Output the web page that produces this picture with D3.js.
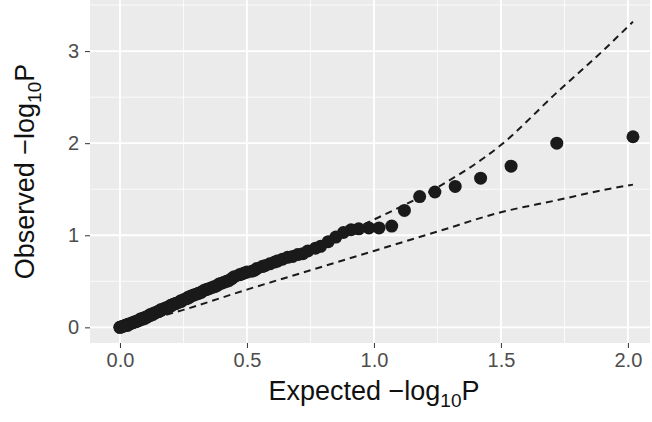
<!DOCTYPE html>
<html><head><meta charset="utf-8">
<script src="https://cdn.jsdelivr.net/npm/d3@7"></script>
<style>body{margin:0;background:#fff}</style>
</head><body><svg id="c" width="652" height="422"></svg>
<script>
// expected -log10 p (rank order) and observed -log10 p
const expected = [2.02,1.72,1.54,1.42,1.32,1.24,1.18,1.12,1.07,1.02,0.98,0.94,0.91,0.88,0.85,0.82,0.79,0.77,0.74,0.72,
  0.70,0.68,0.66,0.64,0.62,0.61,0.59,0.57,0.56,0.54,0.53,0.52,0.50,0.49,0.48,0.47,0.45,0.44,0.43,0.42,
  0.41,0.40,0.39,0.38,0.37,0.36,0.35,0.34,0.33,0.32,0.31,0.31,0.30,0.29,0.28,0.27,0.27,0.26,0.25,0.24,
  0.24,0.23,0.22,0.22,0.21,0.20,0.20,0.19,0.18,0.18,0.17,0.16,0.16,0.15,0.15,0.14,0.13,0.13,0.12,0.12,
  0.11,0.11,0.10,0.10,0.09,0.09,0.08,0.08,0.07,0.07,0.06,0.06,0.05,0.05,0.04,0.04,0.03,0.03,0.03,0.02,
  0.02,0.01,0.01,0.00,0.00]
const observed = [2.07,2.00,1.75,1.62,1.53,1.47,1.42,1.27,1.10,1.08,1.08,1.07,1.06,1.03,0.98,0.93,0.88,0.86,0.83,0.80,
  0.79,0.77,0.76,0.74,0.72,0.71,0.69,0.67,0.66,0.64,0.62,0.61,0.60,0.59,0.58,0.57,0.55,0.53,0.51,0.50,
  0.49,0.48,0.47,0.45,0.44,0.43,0.42,0.41,0.40,0.38,0.37,0.37,0.36,0.35,0.34,0.33,0.32,0.31,0.30,0.29,
  0.28,0.27,0.26,0.26,0.25,0.24,0.23,0.22,0.21,0.21,0.20,0.19,0.18,0.17,0.17,0.16,0.15,0.14,0.14,0.13,
  0.12,0.12,0.11,0.10,0.10,0.09,0.09,0.08,0.07,0.07,0.06,0.06,0.05,0.05,0.04,0.04,0.03,0.03,0.02,0.02,
  0.02,0.01,0.01,0.00,0.00]
const bandX = [0,0.25,0.5,0.75,1.0,1.25,1.5,1.72,1.9,2.02]
const bandUpper = [0.02,0.30,0.58,0.86,1.17,1.52,1.98,2.55,3.0,3.32]
const bandLower = [0.00,0.19,0.41,0.62,0.83,1.04,1.25,1.38,1.49,1.55]
const xTicks = [0,0.5,1,1.5,2]
const yTicks = [0,1,2,3]

const svg = d3.select('#c')
const L = 90, R = 650, T = 0, B = 343
const x = d3.scaleLinear().domain([-0.118, 2.087]).range([L, R])
const y = d3.scaleLinear().domain([-0.17, 3.555]).range([B, T])

svg.append('rect').attr('x', L).attr('y', T).attr('width', R - L).attr('height', B - T).attr('fill', '#ebebeb')

// minor grid
const xMinor = [0.25,0.75,1.25,1.75], yMinor = [0.5,1.5,2.5,3.5]
svg.selectAll('.xm').data(xMinor).enter().append('line')
  .attr('x1', d => x(d)).attr('x2', d => x(d)).attr('y1', T).attr('y2', B)
  .attr('stroke', '#fff').attr('stroke-width', 0.8)
svg.selectAll('.ym').data(yMinor).enter().append('line')
  .attr('y1', d => y(d)).attr('y2', d => y(d)).attr('x1', L).attr('x2', R)
  .attr('stroke', '#fff').attr('stroke-width', 0.8)
// major grid
svg.selectAll('.xg').data(xTicks).enter().append('line')
  .attr('x1', d => x(d)).attr('x2', d => x(d)).attr('y1', T).attr('y2', B)
  .attr('stroke', '#fff').attr('stroke-width', 1.8)
svg.selectAll('.yg').data(yTicks).enter().append('line')
  .attr('y1', d => y(d)).attr('y2', d => y(d)).attr('x1', L).attr('x2', R)
  .attr('stroke', '#fff').attr('stroke-width', 1.8)

// axes
const xa = svg.append('g').attr('transform', `translate(0,${B})`)
  .call(d3.axisBottom(x).tickValues(xTicks).tickFormat(d3.format('.1f')).tickSize(5).tickPadding(5))
const ya = svg.append('g').attr('transform', `translate(${L},0)`)
  .call(d3.axisLeft(y).tickValues(yTicks).tickFormat(d3.format('d')).tickSize(5).tickPadding(6))
;[xa, ya].forEach(a => {
  a.select('.domain').remove()
  a.selectAll('line').attr('stroke', '#333')
  a.selectAll('text').attr('fill', '#4d4d4d').style('font-family', 'Liberation Sans, Arial').style('font-size', '20px')
})

// confidence band
const line = d3.line().x(d => x(d[0])).y(d => y(d[1]))
;[bandUpper, bandLower].forEach(b => {
  svg.append('path').datum(bandX.map((v, i) => [v, b[i]]))
    .attr('d', line.curve(d3.curveMonotoneX)).attr('fill', 'none')
    .attr('stroke', '#1a1a1a').attr('stroke-width', 2).attr('stroke-dasharray', '7,5')
})

svg.selectAll('circle').data(expected).enter().append('circle')
  .attr('cx', d => x(d)).attr('cy', (d, i) => y(observed[i]))
  .attr('r', 6.5).attr('fill', '#1a1a1a')

const xt = svg.append('text').attr('x', (L + R) / 2 + 4).attr('y', 400).attr('text-anchor', 'middle')
  .style('font-family', 'Liberation Sans, Arial').style('font-size', '27px').attr('fill', '#111')
xt.append('tspan').text('Expected \u2212log')
xt.append('tspan').text('10').attr('dy', 7).style('font-size', '19px')
xt.append('tspan').text('P').attr('dy', -7)

const yt = svg.append('text').attr('transform', `translate(34,${(T + B) / 2}) rotate(-90)`).attr('text-anchor', 'middle')
  .style('font-family', 'Liberation Sans, Arial').style('font-size', '27px').attr('fill', '#111')
yt.append('tspan').text('Observed \u2212log')
yt.append('tspan').text('10').attr('dy', 7).style('font-size', '19px')
yt.append('tspan').text('P').attr('dy', -7)
</script></body></html>
